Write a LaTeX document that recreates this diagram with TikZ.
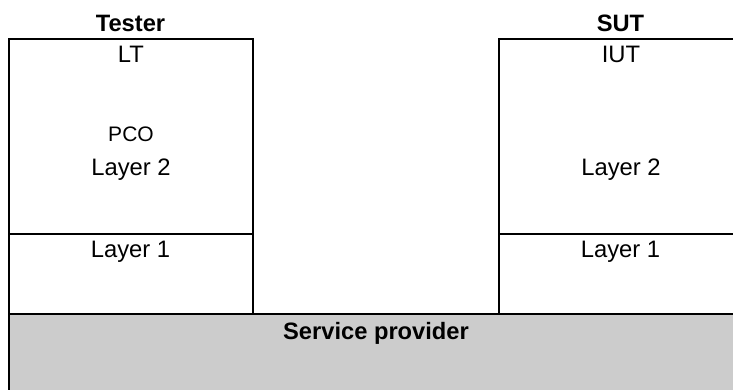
\documentclass[tikz,border=0pt]{standalone}
\usepackage{fontspec}
\setmainfont{Liberation Sans}
\definecolor{provider}{RGB}{204,204,204}
\tikzset{
  px/.style={x=1pt,y=-1pt},
  boxpart/.style={draw=black,line width=1.7pt,fill=white,minimum width=244pt,inner sep=0pt,outer sep=0pt,anchor=north west},
  txt/.style={inner sep=0pt,anchor=base,font=\fontsize{23.8pt}{26pt}\selectfont},
  small/.style={inner sep=0pt,anchor=base,font=\fontsize{21pt}{23pt}\selectfont},
  head/.style={inner sep=0pt,anchor=base,font=\bfseries\fontsize{23.7pt}{26pt}\selectfont}
}
\begin{document}
\begin{tikzpicture}[px]
\useasboundingbox (0,0) rectangle (733,390);
\begin{scope}
\clip (0,0) rectangle (733,390);
\node[boxpart,minimum height=195pt] (t2) at (9,39) {};
\node[boxpart,minimum height=80pt] (t1) at (9,234) {};
\node[boxpart,minimum height=195pt,minimum width=260pt] (s2) at (499,39) {};
\node[boxpart,minimum height=80pt,minimum width=260pt] (s1) at (499,234) {};
\node[draw=black,line width=1.7pt,fill=provider,minimum width=760pt,minimum height=100pt,inner sep=0pt,outer sep=0pt,anchor=north west] (sp) at (9,314) {};
\end{scope}
\node[head] (tester) at (130.5,31.7) {Tester};
\node[head] (sut) at (620.5,32) {SUT};
\node[txt] (lt) at (131,62.7) {LT};
\node[small] (pco) at (131,142) {PCO};
\node[txt] (l2a) at (131,176) {Layer 2};
\node[txt] (l1a) at (130.5,257.5) {Layer 1};
\node[txt] (iut) at (621,62.7) {IUT};
\node[txt] (l2b) at (621,176) {Layer 2};
\node[txt] (l1b) at (620.5,257.5) {Layer 1};
\node[head] (splabel) at (376,339) {Service provider};
\end{tikzpicture}
\end{document}
